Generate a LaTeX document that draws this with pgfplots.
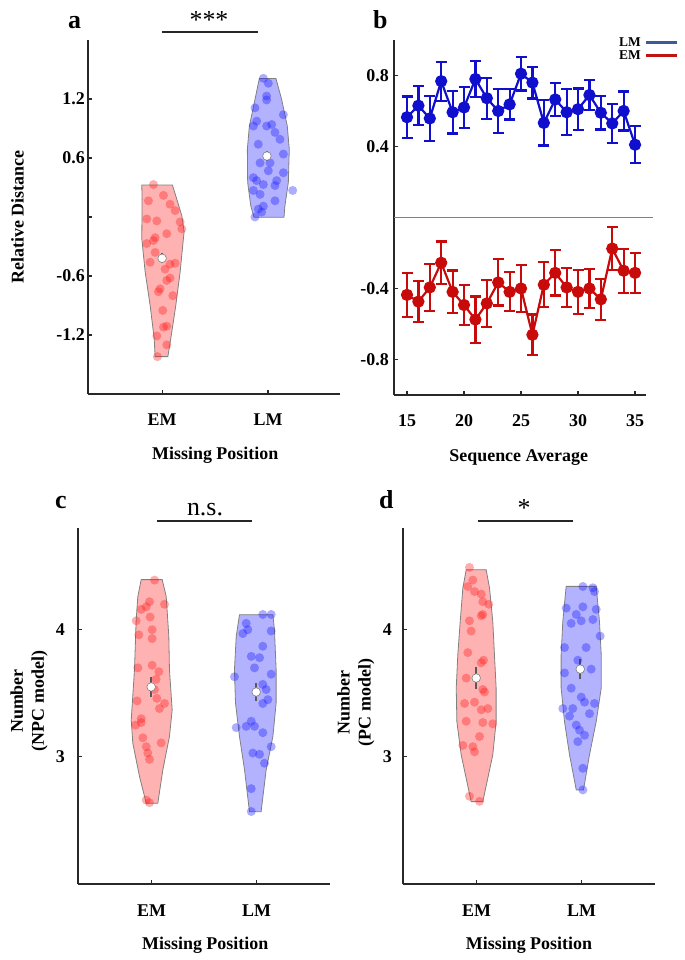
\documentclass[border=0pt]{standalone}
\usepackage{fontspec}
\setmainfont{Liberation Serif}
\usepackage{pgfplots}
\pgfplotsset{compat=1.18}

\definecolor{vred}{RGB}{255,20,20}
\definecolor{vblue}{RGB}{20,20,255}
\definecolor{lblue}{RGB}{15,15,205}
\definecolor{lred}{RGB}{200,10,10}
\definecolor{legblue}{RGB}{60,90,150}
\definecolor{legred}{RGB}{190,20,20}
\definecolor{axcol}{RGB}{40,40,40}

\tikzset{lblfont/.style={font=\fontsize{18}{21}\selectfont\bfseries}}
\pgfplotsset{
  panel/.style={
    scale only axis,
    anchor=south west,
    axis x line*=bottom, axis y line*=left,
    axis line style={axcol, line width=1.5bp},
    major tick style={axcol, line width=1.2bp},
    tick align=inside,
    major tick length=4bp,
    clip=false,
    tick label style={font=\fontsize{18}{18}\selectfont\bfseries},
    xticklabel style={anchor=base, inner sep=0pt, yshift=-32bp},
  },
  violin/.style={draw=gray, line width=0.8bp, fill opacity=0.33},
  dots/.style={only marks, mark=*, mark size=4.5bp, mark options={draw opacity=0, fill opacity=0.35, fill=#1}},
  meanbar/.style={black!65, line width=1.8bp, mark=none},
  meanpt/.style={only marks, mark=*, mark size=4.3bp, mark options={fill=white, draw=gray, line width=0.6bp}},
}

\begin{document}
\begin{tikzpicture}
\useasboundingbox (0,0) rectangle (685bp,960bp);

% ---------------- panel a ----------------
\begin{axis}[panel, at={(88bp,566bp)}, width=252bp, height=354bp,
  xmin=0.3, xmax=2.68, ymin=-1.8, ymax=1.8,
  xtick={1,2}, xticklabels={EM,LM},
  ytick={-1.2,-0.6,0,0.6,1.2}, yticklabels={-1.2,-0.6,,0.6,1.2},
  yticklabel style={anchor=east, inner sep=0pt, xshift=-3bp},
  xlabel={Missing Position}, ylabel={Relative Distance},
  every axis x label/.style={lblfont, at={(axis description cs:0.505,-0.186)}, anchor=base},
  every axis y label/.style={lblfont, at={(axis description cs:-0.28,0.5)}, rotate=90, anchor=center}]
\addplot[violin, fill=vred] table {
0.808 0.325
0.811 0.18
0.808 -0.22
0.840 -0.56
0.887 -0.90
0.925 -1.235
0.934 -1.42
1.054 -1.42
1.082 -1.235
1.129 -0.90
1.170 -0.56
1.201 -0.22
1.208 -0.15
1.186 0.013
1.139 0.18
1.097 0.325
} -- cycle;
\addplot[violin, fill=vblue] table {
1.918 1.408
1.877 1.195
1.824 0.925
1.805 0.689
1.808 0.351
1.837 0.115
1.868 -0.003
2.151 -0.003
2.160 0.115
2.192 0.351
2.201 0.689
2.182 0.925
2.129 1.195
2.075 1.408
} -- cycle;
\addplot[dots=vred] table {
0.918 0.33
1.013 0.22
0.871 0.165
1.075 0.13
1.123 0.065
0.855 -0.02
0.950 -0.04
1.170 -0.05
1.186 -0.12
0.934 -0.21
1.044 -0.17
0.855 -0.27
0.918 -0.24
0.934 -0.36
0.887 -0.46
1.028 -0.53
1.123 -0.47
1.075 -0.48
1.044 -0.645
1.075 -0.62
0.981 -0.73
0.965 -0.76
1.101 -0.80
1.006 -0.95
1.013 -1.12
1.044 -1.11
0.950 -1.21
1.044 -1.30
0.956 -1.42
};
\addplot[dots=vblue] table {
1.956 1.41
2.003 1.36
1.987 1.23
1.987 1.19
1.877 1.11
2.145 1.04
1.893 0.975
1.862 0.925
1.987 0.925
2.035 0.94
2.066 0.86
2.113 0.79
1.908 0.74
2.145 0.64
2.019 0.55
1.925 0.55
2.003 0.47
2.145 0.45
1.862 0.40
1.893 0.37
1.956 0.33
2.082 0.37
2.066 0.32
1.862 0.27
2.233 0.27
1.925 0.23
2.066 0.165
1.956 0.11
1.908 0.08
1.877 0.00
1.940 0.05
};
\addplot[meanbar] coordinates {(1,-0.47) (1,-0.37)};
\addplot[meanbar] coordinates {(1.99,0.57) (1.99,0.67)};
\addplot[meanpt] coordinates {(1,-0.42) (1.99,0.62)};
\end{axis}

% ---------------- panel b ----------------
\begin{axis}[panel, at={(394bp,565bp)}, width=252bp, height=355bp,
  xmin=13.86, xmax=35.96, ymin=-1, ymax=1,
  xtick={15,20,25,30,35}, xticklabels={15,20,25,30,35},
  ytick={-0.8,-0.4,0,0.4,0.8}, yticklabels={-0.8,-0.4,,0.4,0.8},
  yticklabel style={anchor=east, inner sep=0pt, xshift=-5bp},
  xlabel={Sequence Average},
  every axis x label/.style={lblfont, at={(axis description cs:0.495,-0.186)}, anchor=base}]
\addplot[gray, line width=0.8bp, mark=none] coordinates {(13.86,0) (36.6,0)};
\addplot[lblue, line width=2.2bp, mark=*, mark size=5bp,
  error bars/.cd, y dir=both, y explicit,
  error bar style={line width=2.2bp},
  error mark options={lblue, mark size=5.5bp, line width=2.2bp, rotate=90}]
  table[x=x, y=y, y error=e] {
x y e
15 0.565 0.117
16 0.630 0.110
17 0.558 0.125
18 0.768 0.110
19 0.593 0.120
20 0.620 0.115
21 0.780 0.100
22 0.672 0.115
23 0.600 0.125
24 0.637 0.085
25 0.810 0.094
26 0.760 0.090
27 0.533 0.127
28 0.665 0.094
29 0.593 0.130
30 0.610 0.117
31 0.690 0.085
32 0.590 0.094
33 0.530 0.110
34 0.600 0.110
35 0.410 0.105
};
\addplot[lred, line width=2.2bp, mark=*, mark size=5bp,
  error bars/.cd, y dir=both, y explicit,
  error bar style={line width=2.2bp},
  error mark options={lred, mark size=5.5bp, line width=2.2bp, rotate=90}]
  table[x=x, y=y, y error=e] {
x y e
15 -0.436 0.123
16 -0.474 0.115
17 -0.394 0.133
18 -0.255 0.120
19 -0.419 0.120
20 -0.493 0.114
21 -0.575 0.130
22 -0.484 0.133
23 -0.366 0.130
24 -0.419 0.110
25 -0.400 0.133
26 -0.661 0.114
27 -0.379 0.127
28 -0.312 0.127
29 -0.394 0.110
30 -0.419 0.124
31 -0.400 0.110
32 -0.461 0.116
33 -0.175 0.120
34 -0.300 0.124
35 -0.312 0.114
};
\end{axis}

% ---------------- panel c ----------------
\begin{axis}[panel, at={(78bp,76bp)}, width=252bp, height=356bp,
  xmin=0.3, xmax=2.7, ymin=2, ymax=4.8,
  xtick={1,2}, xticklabels={EM,LM},
  ytick={3,4}, yticklabels={3,4},
  yticklabel style={anchor=east, inner sep=0pt, xshift=-13bp},
  xlabel={Missing Position}, ylabel={Number\\(NPC model)},
  every axis x label/.style={lblfont, at={(axis description cs:0.505,-0.183)}, anchor=base},
  every axis y label/.style={lblfont, at={(axis description cs:-0.194,0.514)}, rotate=90, anchor=center, align=center}]
\addplot[violin, fill=vred] table {
0.902 4.394
0.870 4.262
0.854 4.079
0.838 3.685
0.807 3.291
0.822 3.108
0.886 2.845
0.950 2.635
1.060 2.635
1.108 2.898
1.171 3.160
1.197 3.370
1.171 3.685
1.165 3.948
1.140 4.262
1.102 4.394
} -- cycle;
\addplot[violin, fill=vblue] table {
1.838 4.118
1.807 3.948
1.790 3.685
1.800 3.423
1.838 3.160
1.886 2.898
1.933 2.569
2.044 2.569
2.092 2.898
2.156 3.160
2.187 3.423
2.187 3.685
2.171 4.000
2.156 4.118
} -- cycle;
\addplot[dots=vred] table {
1.029 4.39
0.981 4.22
0.950 4.18
0.902 4.16
1.124 4.20
0.854 4.07
0.987 4.10
0.879 3.96
1.006 4.00
1.006 3.93
0.870 3.70
1.006 3.72
1.070 3.67
1.044 3.61
1.029 3.53
1.051 3.46
0.863 3.44
1.124 3.42
1.076 3.38
0.902 3.27
0.848 3.25
0.918 3.15
0.950 3.08
1.092 3.11
0.981 2.98
0.950 2.66
0.981 2.64
0.902 3.30
0.965 3.03
};
\addplot[dots=vblue] table {
2.060 4.12
2.140 4.12
1.902 4.05
1.870 3.97
1.917 4.00
2.140 3.99
2.060 3.87
1.950 3.79
2.029 3.78
1.981 3.70
2.140 3.65
1.790 3.63
2.060 3.57
2.092 3.53
2.108 3.45
2.060 3.42
1.950 3.28
1.981 3.24
1.807 3.23
2.060 3.19
2.140 3.08
1.965 3.03
2.029 3.02
2.076 2.95
1.950 2.75
1.950 2.57
1.902 3.24
};
\addplot[meanbar] coordinates {(0.997,3.474) (0.997,3.626)};
\addplot[meanbar] coordinates {(1.997,3.44) (1.997,3.58)};
\addplot[meanpt] coordinates {(0.997,3.55) (1.997,3.51)};
\end{axis}

% ---------------- panel d ----------------
\begin{axis}[panel, at={(403bp,76bp)}, width=252bp, height=356bp,
  xmin=0.3, xmax=2.7, ymin=2, ymax=4.8,
  xtick={1,2}, xticklabels={EM,LM},
  ytick={3,4}, yticklabels={3,4},
  yticklabel style={anchor=east, inner sep=0pt, xshift=-11bp},
  xlabel={Missing Position}, ylabel={Number\\(PC model)},
  every axis x label/.style={lblfont, at={(axis description cs:0.5,-0.185)}, anchor=base},
  every axis y label/.style={lblfont, at={(axis description cs:-0.187,0.51)}, rotate=90, anchor=center, align=center}]
\addplot[violin, fill=vred] table {
0.902 4.472
0.870 4.328
0.845 4.066
0.822 3.803
0.807 3.541
0.813 3.278
0.854 3.016
0.949 2.648
1.060 2.648
1.155 3.016
1.187 3.278
1.187 3.541
1.171 3.803
1.155 4.066
1.124 4.328
1.092 4.472
} -- cycle;
\addplot[violin, fill=vblue] table {
1.854 4.341
1.822 4.066
1.806 3.803
1.806 3.541
1.838 3.278
1.886 3.016
1.950 2.740
2.019 2.740
2.076 3.016
2.140 3.278
2.188 3.541
2.188 3.803
2.171 4.066
2.140 4.341
} -- cycle;
\addplot[dots=vred] table {
0.933 4.49
0.965 4.39
0.917 4.34
0.981 4.30
1.045 4.28
1.060 4.22
1.117 4.20
1.060 4.12
1.045 4.11
0.933 4.07
0.949 3.99
0.917 3.82
1.045 3.74
1.067 3.76
0.902 3.62
1.060 3.53
1.076 3.51
0.886 3.42
0.981 3.43
1.045 3.37
1.108 3.38
0.902 3.28
1.060 3.27
1.155 3.26
1.029 3.16
0.870 3.09
0.965 3.08
0.981 3.04
0.933 2.69
1.029 2.65
};
\addplot[dots=vblue] table {
2.013 4.34
2.108 4.33
2.124 4.30
1.854 4.17
2.013 4.18
2.140 4.16
1.950 4.12
1.902 4.05
1.997 4.07
2.108 4.08
2.178 3.95
1.838 3.86
2.044 3.86
1.965 3.76
2.092 3.69
1.838 3.66
1.902 3.54
1.997 3.47
2.029 3.43
2.124 3.42
1.822 3.38
1.917 3.38
2.076 3.34
1.886 3.32
1.950 3.25
1.981 3.21
2.029 3.17
1.965 3.12
2.013 2.91
2.013 2.74
};
\addplot[meanbar] coordinates {(0.997,3.535) (0.997,3.705)};
\addplot[meanbar] coordinates {(1.988,3.61) (1.988,3.77)};
\addplot[meanpt] coordinates {(0.997,3.62) (1.988,3.69)};
\end{axis}

% ---------------- annotations ----------------
\begin{scope}[font=\fontsize{26}{26}\selectfont\bfseries]
\node[anchor=base west, inner sep=0pt] at (68bp,931bp) {a};
\node[anchor=base west, inner sep=0pt] at (373bp,931bp) {b};
\node[anchor=base west, inner sep=0pt] at (55bp,451bp) {c};
\node[anchor=base west, inner sep=0pt] at (379bp,451bp) {d};
\end{scope}
\draw[black!85, line width=1.8bp] (162bp,928bp) -- (258bp,928bp);
\node[anchor=base, inner sep=0pt, font=\fontsize{26}{26}\selectfont] at (209bp,931bp) {***};
\draw[black!85, line width=1.8bp] (157bp,439bp) -- (252bp,439bp);
\node[anchor=base, inner sep=0pt, font=\fontsize{26}{26}\selectfont] at (205bp,444bp) {n.s.};
\draw[black!85, line width=1.8bp] (478bp,439bp) -- (573bp,439bp);
\node[anchor=base, inner sep=0pt, font=\fontsize{26}{26}\selectfont] at (524bp,443bp) {*};
% legend of panel b
\node[anchor=east, inner sep=0pt, font=\fontsize{13.5}{13.5}\selectfont\bfseries] at (641bp,918bp) {LM};
\node[anchor=east, inner sep=0pt, font=\fontsize{13.5}{13.5}\selectfont\bfseries] at (641bp,905bp) {EM};
\draw[legblue, line width=3bp] (646bp,917.5bp) -- (677bp,917.5bp);
\draw[legred, line width=3bp] (646bp,904bp) -- (677bp,904bp);
\end{tikzpicture}
\end{document}
